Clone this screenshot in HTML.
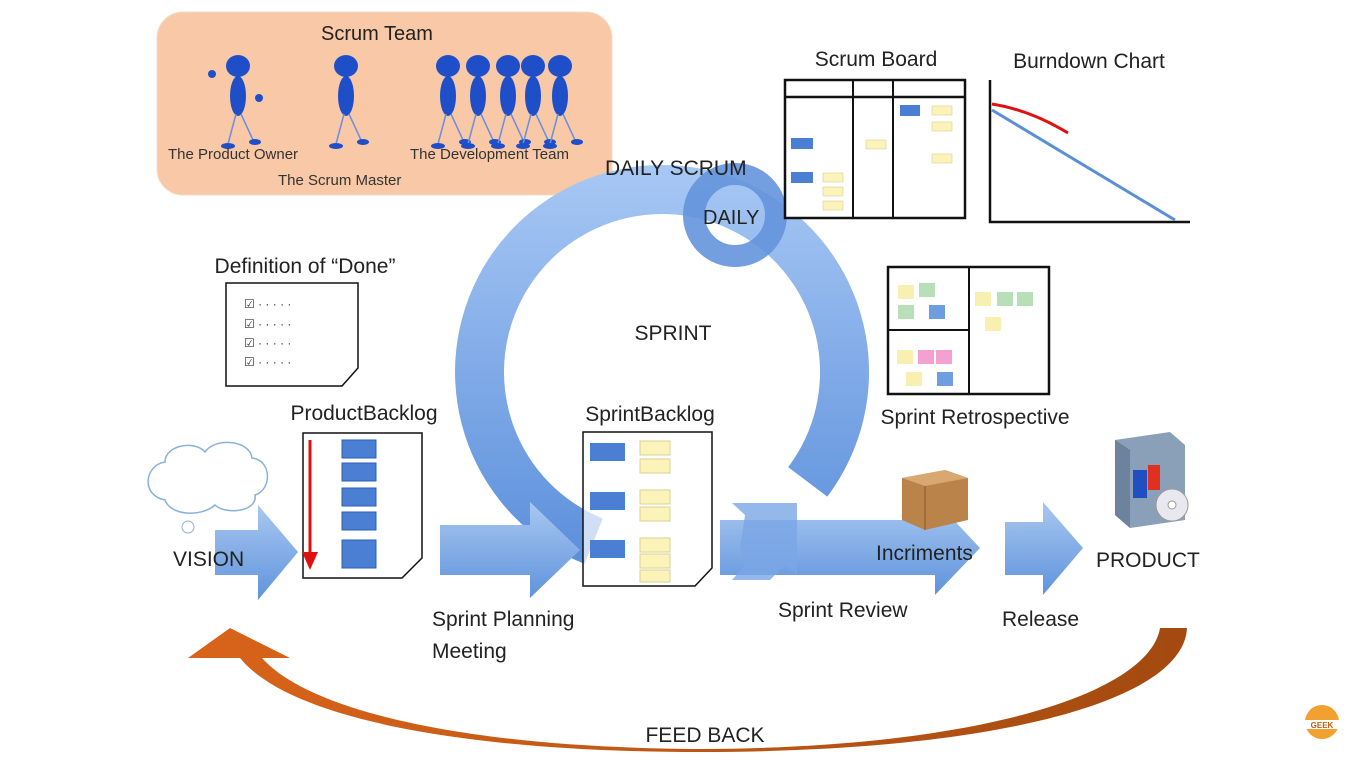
<!DOCTYPE html>
<html><head><meta charset="utf-8"><style>
html,body{margin:0;padding:0;background:#fff;}
svg{display:block;font-family:"Liberation Sans",sans-serif;}
</style></head><body>
<svg width="1366" height="768" viewBox="0 0 1366 768" xmlns="http://www.w3.org/2000/svg">
<defs>
<linearGradient id="bl" x1="0" y1="0" x2="0" y2="1"><stop offset="0" stop-color="#a9c8f0"/><stop offset="1" stop-color="#5f93dc"/></linearGradient>
<linearGradient id="rg" gradientUnits="userSpaceOnUse" x1="0" y1="165" x2="0" y2="570"><stop offset="0" stop-color="#a8c8f4"/><stop offset="1" stop-color="#5a8edb"/></linearGradient>
<linearGradient id="or" x1="0" y1="0" x2="1" y2="0"><stop offset="0" stop-color="#d9641a"/><stop offset="1" stop-color="#a34a10"/></linearGradient>
<g id="fig">
<ellipse cx="0" cy="0" rx="12" ry="11" fill="#1f4fc8"/>
<ellipse cx="0" cy="30" rx="8" ry="20" fill="#1f4fc8"/>
<line x1="-2" y1="48" x2="-10" y2="78" stroke="#6a8ee0" stroke-width="1.5"/>
<line x1="3" y1="48" x2="15" y2="74" stroke="#6a8ee0" stroke-width="1.5"/>
<ellipse cx="-10" cy="80" rx="7" ry="3" fill="#1f4fc8"/>
<ellipse cx="17" cy="76" rx="6" ry="3" fill="#1f4fc8"/>
</g>
</defs>
<rect width="1366" height="768" fill="#fff"/>

<!-- Scrum team -->
<rect x="157" y="12" width="455" height="183" rx="26" fill="#f9c8a6" stroke="#f0dccc"/>
<text x="377" y="40" font-size="20" text-anchor="middle" fill="#222">Scrum Team</text>
<use href="#fig" x="238" y="66"/><circle cx="212" cy="74" r="4" fill="#1f4fc8"/><circle cx="259" cy="98" r="4" fill="#1f4fc8"/>
<use href="#fig" x="346" y="66"/>
<use href="#fig" x="448" y="66"/><use href="#fig" x="478" y="66"/><use href="#fig" x="508" y="66"/><use href="#fig" x="533" y="66"/><use href="#fig" x="560" y="66"/>
<g font-size="15" fill="#333">
<text x="168" y="159">The Product Owner</text>
<text x="410" y="159">The Development Team</text>
<text x="278" y="185">The Scrum Master</text>
</g>

<!-- big sprint ring -->
<path d="M 584.5 563.9 A 207 207 0 1 1 827.3 496.6 L 788.2 467.1 A 158 158 0 1 0 602.8 518.5 Z" fill="url(#rg)"/>
<circle cx="735" cy="215" r="41" fill="none" stroke="#6494dc" stroke-width="22" opacity="0.9"/>
<text x="673" y="340" font-size="21" text-anchor="middle" fill="#222">SPRINT</text>
<text x="605" y="175" font-size="21" fill="#222">DAILY  SCRUM</text>
<text x="703" y="224" font-size="20" fill="#222">DAILY</text>

<!-- Scrum board -->
<rect x="785" y="80" width="180" height="138" fill="#fff" stroke="#111" stroke-width="2.5"/>
<line x1="785" y1="97" x2="965" y2="97" stroke="#111" stroke-width="2.5"/>
<line x1="853" y1="80" x2="853" y2="218" stroke="#111" stroke-width="2"/>
<line x1="893" y1="80" x2="893" y2="218" stroke="#111" stroke-width="2"/>
<g fill="#4a7fd4"><rect x="791" y="138" width="22" height="11"/><rect x="791" y="172" width="22" height="11"/><rect x="900" y="105" width="20" height="11"/></g>
<g fill="#fbf3b8" stroke="#d8d09a" stroke-width="0.6"><rect x="823" y="173" width="20" height="9"/><rect x="823" y="187" width="20" height="9"/><rect x="823" y="201" width="20" height="9"/><rect x="866" y="140" width="20" height="9"/><rect x="932" y="106" width="20" height="9"/><rect x="932" y="122" width="20" height="9"/><rect x="932" y="154" width="20" height="9"/></g>
<text x="876" y="66" font-size="21" text-anchor="middle" fill="#222">Scrum Board</text>

<!-- Burndown -->
<text x="1089" y="68" font-size="21" text-anchor="middle" fill="#222">Burndown Chart</text>
<polyline points="990,80 990,222 1190,222" fill="none" stroke="#111" stroke-width="2.5"/>
<line x1="992" y1="110" x2="1175" y2="220" stroke="#5b8fd8" stroke-width="3"/>
<path d="M992 104 Q1030 110 1068 133" fill="none" stroke="#e01010" stroke-width="3"/>

<!-- Retrospective -->
<rect x="888" y="267" width="161" height="127" fill="#fff" stroke="#111" stroke-width="2.5"/>
<line x1="969" y1="267" x2="969" y2="394" stroke="#111" stroke-width="2"/>
<line x1="888" y1="330" x2="969" y2="330" stroke="#111" stroke-width="2"/>
<g stroke="none"><rect x="898" y="285" width="16" height="14" fill="#f7f0b0"/><rect x="919" y="283" width="16" height="14" fill="#b8e0b8"/><rect x="898" y="305" width="16" height="14" fill="#b8e0b8"/><rect x="929" y="305" width="16" height="14" fill="#6f9ee0"/><rect x="975" y="292" width="16" height="14" fill="#f7f0b0"/><rect x="997" y="292" width="16" height="14" fill="#b8e0b8"/><rect x="1017" y="292" width="16" height="14" fill="#b8e0b8"/><rect x="985" y="317" width="16" height="14" fill="#f7f0b0"/><rect x="897" y="350" width="16" height="14" fill="#f7f0b0"/><rect x="918" y="350" width="16" height="14" fill="#f4a0d0"/><rect x="936" y="350" width="16" height="14" fill="#f4a0d0"/><rect x="906" y="372" width="16" height="14" fill="#f7f0b0"/><rect x="937" y="372" width="16" height="14" fill="#6f9ee0"/></g>
<text x="975" y="424" font-size="21" text-anchor="middle" fill="#222">Sprint Retrospective</text>

<!-- Definition of Done -->
<text x="305" y="273" font-size="21" text-anchor="middle" fill="#222">Definition of “Done”</text>
<path d="M226 283 L358 283 L358 368 L342 386 L226 386 Z" fill="#fff" stroke="#111" stroke-width="1.5"/>
<g font-size="12" fill="#333"><text x="244" y="308">☑  ·  ·  ·  ·  ·</text><text x="244" y="328">☑  ·  ·  ·  ·  ·</text><text x="244" y="347">☑  ·  ·  ·  ·  ·</text><text x="244" y="366">☑  ·  ·  ·  ·  ·</text></g>

<!-- Product backlog -->
<text x="364" y="420" font-size="21" text-anchor="middle" fill="#222">ProductBacklog</text>
<path d="M303 433 L422 433 L422 558 L402 578 L303 578 Z" fill="#fff" stroke="#111" stroke-width="1.5"/>
<g fill="#4a7fd4" stroke="#2e5fb0"><rect x="342" y="440" width="34" height="18"/><rect x="342" y="463" width="34" height="18"/><rect x="342" y="488" width="34" height="18"/><rect x="342" y="512" width="34" height="18"/><rect x="342" y="540" width="34" height="28"/></g>
<line x1="310" y1="440" x2="310" y2="555" stroke="#e01010" stroke-width="3"/><path d="M302 552 L318 552 L310 570 Z" fill="#e01010"/>

<!-- cloud -->
<path d="M165 500 C140 495 145 465 165 462 C165 445 195 440 205 452 C215 437 250 440 252 458 C272 460 272 490 255 495 C258 512 225 515 215 505 C200 518 170 515 165 500 Z" fill="#fff" stroke="#8ab0dd" stroke-width="1.5"/>
<circle cx="188" cy="527" r="6" fill="#fff" stroke="#8ab0dd"/>

<!-- arrows -->
<path d="M215 530 L258 530 L258 505 L298 552 L258 600 L258 575 L215 575 Z" fill="url(#bl)"/>
<path d="M440 525 L530 525 L530 502 L580 550 L530 598 L530 575 L440 575 Z" fill="url(#bl)"/>
<path d="M720 520 L935 520 L935 500 L980 548 L935 595 L935 575 L720 575 Z" fill="url(#bl)"/>
<path d="M732 503 L797 503 L797 575 L785 565 L770 580 L732 580 L745 565 L740 548 L745 515 Z" fill="#7aa6e6" opacity="0.8"/>
<path d="M1005 522 L1043 522 L1043 502 L1083 548 L1043 595 L1043 575 L1005 575 Z" fill="url(#bl)"/>

<!-- Sprint backlog -->
<text x="650" y="421" font-size="21" text-anchor="middle" fill="#222">SprintBacklog</text>
<path d="M583 432 L712 432 L712 568 L695 586 L583 586 Z" fill="#fff" fill-opacity="0.7" stroke="#111" stroke-width="1.5"/>
<g fill="#4a7fd4"><rect x="590" y="443" width="35" height="18"/><rect x="590" y="492" width="35" height="18"/><rect x="590" y="540" width="35" height="18"/></g>
<g fill="#fbf3b8" stroke="#d8d09a"><rect x="640" y="441" width="30" height="14"/><rect x="640" y="459" width="30" height="14"/><rect x="640" y="490" width="30" height="14"/><rect x="640" y="507" width="30" height="14"/><rect x="640" y="538" width="30" height="14"/><rect x="640" y="554" width="30" height="14"/><rect x="640" y="570" width="30" height="12"/></g>

<!-- box -->
<path d="M902 478 L945 470 L968 478 L968 520 L925 530 L902 520 Z" fill="#b9834a"/>
<path d="M902 478 L925 486 L968 478 L945 470 Z" fill="#d9a870"/>
<path d="M925 486 L925 530" stroke="#8a5a2a"/>

<!-- product icon -->
<path d="M1115 440 L1170 432 L1185 445 L1185 520 L1130 528 L1115 515 Z" fill="#8aa0b8"/>
<path d="M1115 440 L1130 450 L1130 528 L1115 515 Z" fill="#6d829c"/>
<rect x="1133" y="470" width="14" height="28" fill="#2050c0"/><rect x="1148" y="465" width="12" height="25" fill="#e03020"/>
<circle cx="1172" cy="505" r="16" fill="#e8e8ee" stroke="#999"/><circle cx="1172" cy="505" r="4" fill="#fff" stroke="#999"/>

<!-- labels -->
<g font-size="21" fill="#222">
<text x="173" y="566">VISION</text>
<text x="432" y="626">Sprint Planning</text>
<text x="432" y="658">Meeting</text>
<text x="778" y="617">Sprint Review</text>
<text x="876" y="560">Incriments</text>
<text x="1002" y="626">Release</text>
<text x="1096" y="567">PRODUCT</text>
</g>

<!-- feedback -->
<path d="M1160 628 L1187 628 C1184 700 1000 752 700 752 C470 752 290 720 240 658 L188 658 L230 628 L290 658 L262 658 C310 712 470 748 700 749 C990 748 1150 690 1160 628 Z" fill="url(#or)"/>
<text x="705" y="742" font-size="21" text-anchor="middle" fill="#222">FEED BACK</text>

<!-- logo -->
<circle cx="1322" cy="722" r="17" fill="#f2a030"/>
<rect x="1305" y="720" width="34" height="9" fill="#fff"/>
<text x="1322" y="728" font-size="8" text-anchor="middle" font-weight="bold" fill="#c06010">GEEK</text>
</svg>
</body></html>
